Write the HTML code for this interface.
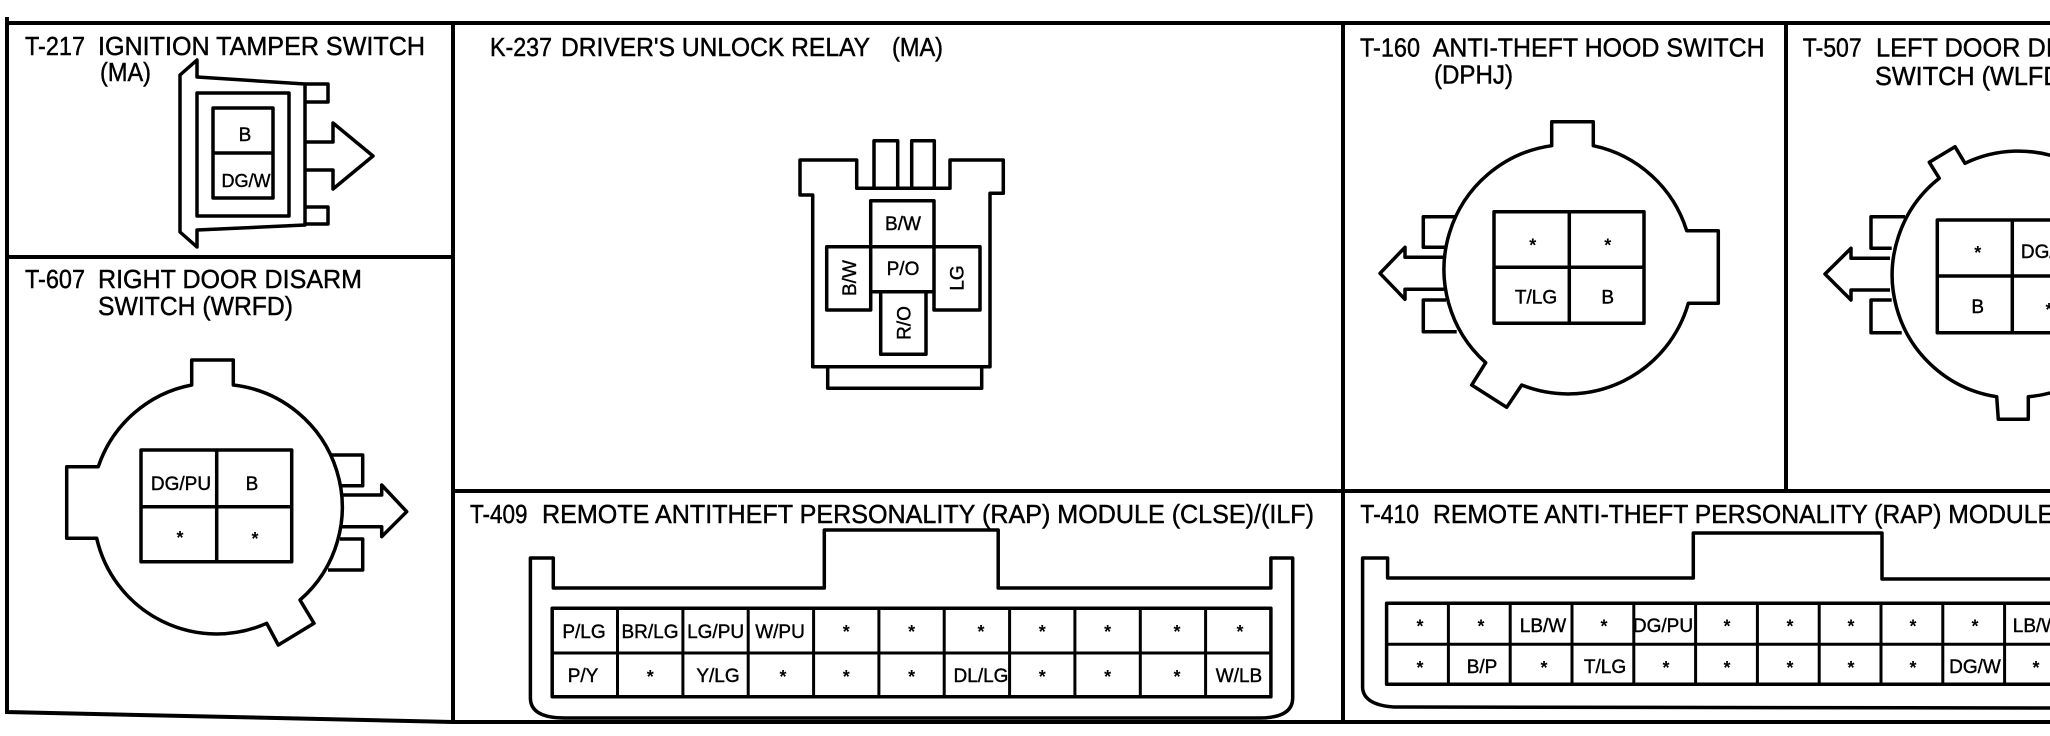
<!DOCTYPE html>
<html><head><meta charset="utf-8"><title>Connector diagram</title>
<style>
html,body{margin:0;padding:0;background:#fff;width:2050px;height:736px;overflow:hidden}
svg{display:block}
text{font-family:"Liberation Sans",sans-serif;fill:#000}
.t{font-size:26px;stroke:#000;stroke-width:.45px}
.l{font-size:19px;text-anchor:middle;stroke:#000;stroke-width:.4px}
.s{font-size:18px;text-anchor:middle;font-weight:bold}
.k{fill:none;stroke:#000;stroke-width:3.5;stroke-linejoin:round}
.g{fill:none;stroke:#000;stroke-width:3}
</style></head><body>
<svg width="2050" height="736" viewBox="0 0 2050 736" xmlns="http://www.w3.org/2000/svg">
<rect width="2050" height="736" fill="#fff"/>
<!-- frame -->
<g fill="none" stroke="#000" stroke-width="4">
<path d="M7 17V712L453 722H2050"/>
<path d="M7 23H2050"/>
<path d="M7 257H453"/>
<path d="M453 23V722"/>
<path d="M1343 23V722"/>
<path d="M453 491H2050"/>
<path d="M1786 23V491"/>
</g>

<!-- T-217 -->
<text class="t" x="25" y="55" textLength="60" lengthAdjust="spacingAndGlyphs">T-217</text>
<text class="t" x="98" y="55" textLength="327" lengthAdjust="spacingAndGlyphs">IGNITION TAMPER SWITCH</text>
<text class="t" x="100" y="81" textLength="51" lengthAdjust="spacingAndGlyphs">(MA)</text>
<path class="k" d="M197 60V77L305 84V225L197 230V247L180 232V75Z"/>
<path class="k" d="M305 84H328V102H305M305 207H328V224H305"/>
<path class="k" d="M305 142H333V123L373 156L333 189V170H305"/>
<rect class="k" x="197" y="93" width="92" height="123"/>
<rect class="k" x="213" y="108" width="60" height="90"/>
<path class="k" d="M213 153H273"/>
<text class="l" x="245" y="141">B</text>
<text class="l" x="246" y="187" style="font-size:18px">DG/W</text>

<!-- T-607 -->
<text class="t" x="25" y="288" textLength="60" lengthAdjust="spacingAndGlyphs">T-607</text>
<text class="t" x="98" y="288" textLength="264" lengthAdjust="spacingAndGlyphs">RIGHT DOOR DISARM</text>
<text class="t" x="98" y="315" textLength="195" lengthAdjust="spacingAndGlyphs">SWITCH (WRFD)</text>
<path class="k" d="M233.3 385V360H191.7V385A123 123 0 0 0 98.3 466.7H66.7V538.3H96.7A123 123 0 0 0 266.7 623.3L278.3 645L314 623.3L300 600A123 123 0 0 0 233.3 385Z"/>
<path class="k" d="M330 455H362.7V485.7H340M340 539H362.7V570H328"/>
<path class="k" d="M342 495H381.7V485L406.7 511.7L381.7 536.7V526.7H342"/>
<rect class="k" x="141" y="450" width="150.7" height="111.7"/>
<path class="k" d="M216.7 450V561.7M141 506.7H291.7"/>
<text class="l" x="181" y="490">DG/PU</text>
<text class="l" x="252" y="490">B</text>
<text class="s" x="180" y="544">*</text>
<text class="s" x="255" y="545">*</text>

<!-- K-237 -->
<text class="t" x="490" y="56" textLength="62" lengthAdjust="spacingAndGlyphs">K-237</text>
<text class="t" x="561" y="56" textLength="309" lengthAdjust="spacingAndGlyphs">DRIVER'S UNLOCK RELAY</text>
<text class="t" x="892" y="56" textLength="51" lengthAdjust="spacingAndGlyphs">(MA)</text>
<path class="k" d="M800 160H856.7V188.3H950V160H1003.3V193.3H990V366.7H812.7V195H800Z"/>
<path class="k" d="M874 188.3V140.7H897.7V188.3M911.7 188.3V140.7H934.3V188.3"/>
<path class="k" d="M827.7 366.7V388.3H981.7V366.7"/>
<rect class="k" x="870.7" y="200.7" width="63.3" height="46"/>
<rect class="k" x="870.7" y="246.7" width="63.3" height="45"/>
<path class="k" d="M870.7 246.7H826.7V310H870.7V291.7"/>
<path class="k" d="M934 246.7H980V310H934V291.7"/>
<path class="k" d="M880.7 291.7V354.3H926V291.7"/>
<text class="l" x="903" y="230">B/W</text>
<text class="l" x="903" y="275">P/O</text>
<text class="l" transform="translate(856 278) rotate(-90)">B/W</text>
<text class="l" transform="translate(963.3 278) rotate(-90)">LG</text>
<text class="l" transform="translate(910.7 323) rotate(-90)">R/O</text>

<!-- T-409 -->
<text class="t" x="470" y="523" textLength="57.5" lengthAdjust="spacingAndGlyphs">T-409</text>
<text class="t" x="542" y="523" textLength="772" lengthAdjust="spacingAndGlyphs">REMOTE ANTITHEFT PERSONALITY (RAP) MODULE (CLSE)/(ILF)</text>
<path class="k" d="M530.4 558H553.3V588H824.3V530H998.2V588H1270.9V558H1292.7V698Q1292.7 718 1259 718H565Q530.4 718 530.4 698Z"/>
<rect class="k" x="552.2" y="608.3" width="718.7" height="88.4"/>
<path class="g" d="M552.2 653H1270.9M617.5 608.3V696.7M682.9 608.3V696.7M748.2 608.3V696.7M813.6 608.3V696.7M878.9 608.3V696.7M944.2 608.3V696.7M1009.6 608.3V696.7M1074.9 608.3V696.7M1140.3 608.3V696.7M1205.6 608.3V696.7"/>
<text class="l" x="584" y="638">P/LG</text>
<text class="l" x="650" y="638">BR/LG</text>
<text class="l" x="715.6" y="638">LG/PU</text>
<text class="l" x="780" y="638">W/PU</text>
<text class="s" x="846.3" y="638">*</text>
<text class="s" x="911.6" y="638">*</text>
<text class="s" x="981" y="638">*</text>
<text class="s" x="1042.3" y="638">*</text>
<text class="s" x="1107.6" y="638">*</text>
<text class="s" x="1177" y="638">*</text>
<text class="s" x="1240" y="638">*</text>
<text class="l" x="583" y="682">P/Y</text>
<text class="s" x="650.2" y="683">*</text>
<text class="l" x="718" y="682">Y/LG</text>
<text class="s" x="783" y="683">*</text>
<text class="s" x="846.3" y="683">*</text>
<text class="s" x="911.6" y="683">*</text>
<text class="l" x="981" y="682">DL/LG</text>
<text class="s" x="1042.3" y="683">*</text>
<text class="s" x="1107.6" y="683">*</text>
<text class="s" x="1177" y="683">*</text>
<text class="l" x="1239" y="682">W/LB</text>

<!-- T-160 -->
<text class="t" x="1360" y="56.7" textLength="60" lengthAdjust="spacingAndGlyphs">T-160</text>
<text class="t" x="1432.7" y="56.7" textLength="332" lengthAdjust="spacingAndGlyphs">ANTI-THEFT HOOD SWITCH</text>
<text class="t" x="1434" y="83.5" textLength="79" lengthAdjust="spacingAndGlyphs">(DPHJ)</text>
<path class="k" d="M1593.3 145.7V121.7H1551.7V145.7A125 125 0 0 0 1485.7 362.7L1471.7 385L1506.7 407.3L1521.7 385A125 125 0 0 0 1688.3 303.3H1718.3V230.7H1686.7A125 125 0 0 0 1593.3 145.7Z"/>
<path class="k" d="M1455 216.7H1423.3V247.3H1446M1446 300H1423.3V331.7H1456.7"/>
<path class="k" d="M1445 257.3H1405V247.3L1380 273.3L1405 299.3V289.3H1445"/>
<rect class="k" x="1494" y="211.7" width="150" height="111.6"/>
<path class="k" d="M1569.3 211.7V323.3M1494 267.3H1644"/>
<text class="s" x="1532.7" y="251.5">*</text>
<text class="s" x="1607.7" y="251.5">*</text>
<text class="l" x="1536" y="303.3">T/LG</text>
<text class="l" x="1607.7" y="303.3">B</text>

<!-- T-507 -->
<text class="t" x="1802.7" y="56.7" textLength="59" lengthAdjust="spacingAndGlyphs">T-507</text>
<text class="t" x="1876" y="56.7" textLength="250" lengthAdjust="spacingAndGlyphs">LEFT DOOR DISARM</text>
<text class="t" x="1875" y="85" textLength="195" lengthAdjust="spacingAndGlyphs">SWITCH (WLFD)</text>
<path class="k" d="M1965 163.3L1955 146.7L1929.3 162.3L1939.3 178.3A123 123 0 0 0 1996.7 396.7L1998.3 419.3H2028.3V396.7A123 123 0 1 0 1965 163.3Z"/>
<path class="k" d="M1905 216.7H1871V248.3H1891.7M1891.7 300H1871V332.7H1901.7"/>
<path class="k" d="M1890 258.3H1851V248.3L1825 274L1851 300V290H1890"/>
<rect class="k" x="1937.3" y="220" width="150" height="112.7"/>
<path class="k" d="M2012.3 220V332.7M1937.3 276H2087"/>
<text class="s" x="1977.7" y="259">*</text>
<text class="l" x="2051" y="258">DG/PU</text>
<text class="l" x="1977.7" y="313">B</text>
<text class="s" x="2049" y="316">*</text>

<!-- T-410 -->
<text class="t" x="1360.4" y="523" textLength="58.6" lengthAdjust="spacingAndGlyphs">T-410</text>
<text class="t" x="1433" y="523" textLength="621" lengthAdjust="spacingAndGlyphs">REMOTE ANTI-THEFT PERSONALITY (RAP) MODULE</text>
<path class="k" d="M2060 579H1882V533H1693.3V578H1387.6V558H1362.6V688Q1364 705 1394 707L2060 708"/>
<rect class="k" x="1386.6" y="603.3" width="680" height="81"/>
<path class="g" d="M1386.6 644.3H2066M1448.4 603.3V684.3M1510.2 603.3V684.3M1572 603.3V684.3M1633.8 603.3V684.3M1695.6 603.3V684.3M1757.4 603.3V684.3M1819.2 603.3V684.3M1881 603.3V684.3M1942.8 603.3V684.3M2004.6 603.3V684.3"/>
<text class="s" x="1420" y="632.5">*</text>
<text class="s" x="1481" y="632.5">*</text>
<text class="l" x="1543" y="632">LB/W</text>
<text class="s" x="1604" y="632.5">*</text>
<text class="l" x="1663" y="632">DG/PU</text>
<text class="s" x="1727" y="632.5">*</text>
<text class="s" x="1790" y="632.5">*</text>
<text class="s" x="1851" y="632.5">*</text>
<text class="s" x="1913" y="632.5">*</text>
<text class="s" x="1975" y="632.5">*</text>
<text class="l" x="2036" y="632">LB/W</text>
<text class="s" x="1420" y="674">*</text>
<text class="l" x="1482" y="673">B/P</text>
<text class="s" x="1544" y="674">*</text>
<text class="l" x="1605" y="673">T/LG</text>
<text class="s" x="1666" y="674">*</text>
<text class="s" x="1727" y="674">*</text>
<text class="s" x="1790" y="674">*</text>
<text class="s" x="1851" y="674">*</text>
<text class="s" x="1913" y="674">*</text>
<text class="l" x="1975" y="673">DG/W</text>
<text class="s" x="2036" y="674">*</text>
</svg>
</body></html>
